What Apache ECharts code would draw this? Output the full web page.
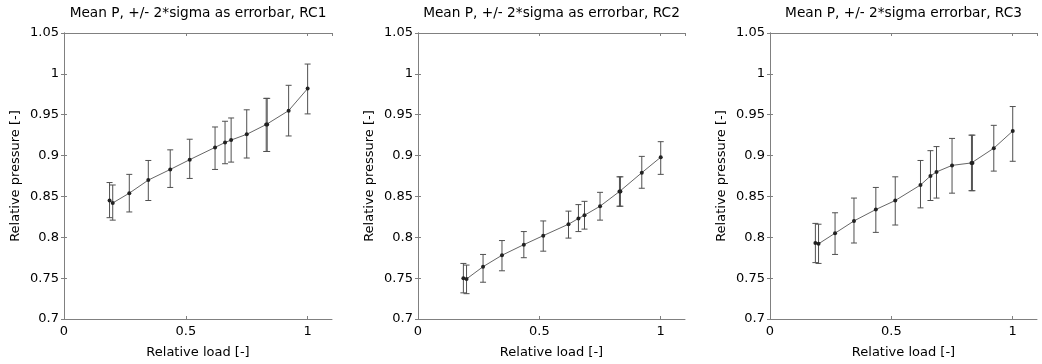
<!DOCTYPE html>
<html>
<head>
<meta charset="utf-8">
<script src="https://cdn.jsdelivr.net/npm/echarts@6/dist/echarts.min.js"></script>
<style>html,body{margin:0;padding:0;background:#fff;}#c{width:1042px;height:364px;}</style>
</head>
<body>
<div id="c"></div>
<script>
const titles = ['Mean P, +/- 2*sigma as errorbar, RC1', 'Mean P, +/- 2*sigma as errorbar, RC2', 'Mean P, +/- 2*sigma errorbar, RC3'];
const loadX = [0.187, 0.2, 0.268, 0.346, 0.436, 0.516, 0.62, 0.661, 0.686, 0.75, 0.83, 0.834, 0.922, 1.0];
const rc1Mean = [0.845, 0.842, 0.854, 0.870, 0.883, 0.895, 0.910, 0.916, 0.919, 0.926, 0.938, 0.938, 0.955, 0.982];
const rc1Lo = [0.824, 0.821, 0.831, 0.845, 0.861, 0.872, 0.883, 0.890, 0.892, 0.897, 0.905, 0.905, 0.924, 0.951];
const rc1Hi = [0.867, 0.864, 0.877, 0.894, 0.907, 0.920, 0.935, 0.942, 0.946, 0.956, 0.970, 0.970, 0.986, 1.012];
const rc2Mean = [0.750, 0.749, 0.764, 0.778, 0.791, 0.802, 0.816, 0.823, 0.827, 0.838, 0.856, 0.856, 0.879, 0.898];
const rc2Lo = [0.732, 0.731, 0.745, 0.759, 0.775, 0.783, 0.799, 0.807, 0.810, 0.821, 0.838, 0.838, 0.860, 0.877];
const rc2Hi = [0.768, 0.766, 0.779, 0.796, 0.807, 0.820, 0.832, 0.840, 0.844, 0.855, 0.874, 0.874, 0.899, 0.917];
const rc3Mean = [0.793, 0.792, 0.805, 0.820, 0.834, 0.845, 0.864, 0.875, 0.880, 0.888, 0.891, 0.891, 0.909, 0.930];
const rc3Lo = [0.769, 0.768, 0.779, 0.793, 0.806, 0.815, 0.836, 0.845, 0.848, 0.854, 0.857, 0.857, 0.881, 0.893];
const rc3Hi = [0.817, 0.816, 0.830, 0.848, 0.861, 0.874, 0.894, 0.906, 0.911, 0.921, 0.925, 0.925, 0.937, 0.960];
const xName = 'Relative load [-]';
const yName = 'Relative pressure [-]';

const means = [rc1Mean, rc2Mean, rc3Mean];
const los = [rc1Lo, rc2Lo, rc3Lo];
const his = [rc1Hi, rc2Hi, rc3Hi];

const FONT = "'DejaVu Sans', sans-serif";
const FS = 13;
const TXT = '#000';
const AX = '#808080';
const grids = [
  {left: 64, width: 268, top: 33, bottom: 41},
  {left: 418, width: 267, top: 33, bottom: 41},
  {left: 770, width: 267, top: 33, bottom: 41}
];
const fmtNum = v => String(+v.toFixed(2));

const xAxes = [], yAxes = [], series = [], title = [];
grids.forEach((g, i) => {
  title.push({text: titles[i], left: g.left + g.width / 2, top: 6, textAlign: 'center', padding: 0,
    textStyle: {fontFamily: FONT, fontSize: 13.7, fontWeight: 'normal', color: TXT}});
  const base = {type: 'value', gridIndex: i, min: 0, max: 1.1, interval: 0.5,
    axisLine: {show: true, lineStyle: {color: AX, width: 1}},
    axisTick: {show: true, inside: true, length: 3, lineStyle: {color: AX}},
    splitLine: {show: false}};
  xAxes.push(Object.assign({}, base, {position: 'bottom', name: xName, nameLocation: 'middle', nameGap: 27,
    nameTextStyle: {fontFamily: FONT, fontSize: FS, color: TXT},
    axisLabel: {show: true, margin: 6, fontFamily: FONT, fontSize: FS, color: TXT, showMaxLabel: false, formatter: fmtNum}}));
  xAxes.push(Object.assign({}, base, {position: 'top', axisLabel: {show: false}}));
  const ybase = {type: 'value', gridIndex: i, min: 0.7, max: 1.05, interval: 0.05,
    axisLine: {show: true, lineStyle: {color: AX, width: 1}},
    axisTick: {show: true, inside: true, length: 3, lineStyle: {color: AX}},
    splitLine: {show: false}};
  yAxes.push(Object.assign({}, ybase, {position: 'left', name: yName, nameLocation: 'middle', nameGap: 42,
    nameTextStyle: {fontFamily: FONT, fontSize: FS, color: TXT},
    axisLabel: {show: true, margin: 5, fontFamily: FONT, fontSize: FS, color: TXT, formatter: fmtNum}}));
  yAxes.push(Object.assign({}, ybase, {position: 'right', axisLabel: {show: false}}));

  const lineData = loadX.map((x, k) => [x, means[i][k]]);
  const errData = loadX.map((x, k) => [x, los[i][k], his[i][k]]);
  series.push({
    type: 'custom', xAxisIndex: 2 * i, yAxisIndex: 2 * i, data: errData, z: 2,
    renderItem: function (params, api) {
      const x = api.value(0);
      const lo = api.coord([x, api.value(1)]);
      const hi = api.coord([x, api.value(2)]);
      const hw = 3;
      const st = {stroke: '#505050', lineWidth: 1};
      return {type: 'group', children: [
        {type: 'line', shape: {x1: lo[0], y1: lo[1], x2: hi[0], y2: hi[1]}, style: st},
        {type: 'line', shape: {x1: lo[0] - hw, y1: lo[1], x2: lo[0] + hw, y2: lo[1]}, style: st},
        {type: 'line', shape: {x1: hi[0] - hw, y1: hi[1], x2: hi[0] + hw, y2: hi[1]}, style: st}
      ]};
    }
  });
  series.push({
    type: 'line', xAxisIndex: 2 * i, yAxisIndex: 2 * i, data: lineData, z: 3,
    symbol: 'circle', symbolSize: 4, showSymbol: true,
    lineStyle: {color: '#666', width: 1}, itemStyle: {color: '#222'}
  });
});

const chart = echarts.init(document.getElementById('c'), null, {renderer: 'canvas'});
chart.setOption({animation: false, backgroundColor: '#fff', title, grid: grids, xAxis: xAxes, yAxis: yAxes, series});
</script>
</body>
</html>
